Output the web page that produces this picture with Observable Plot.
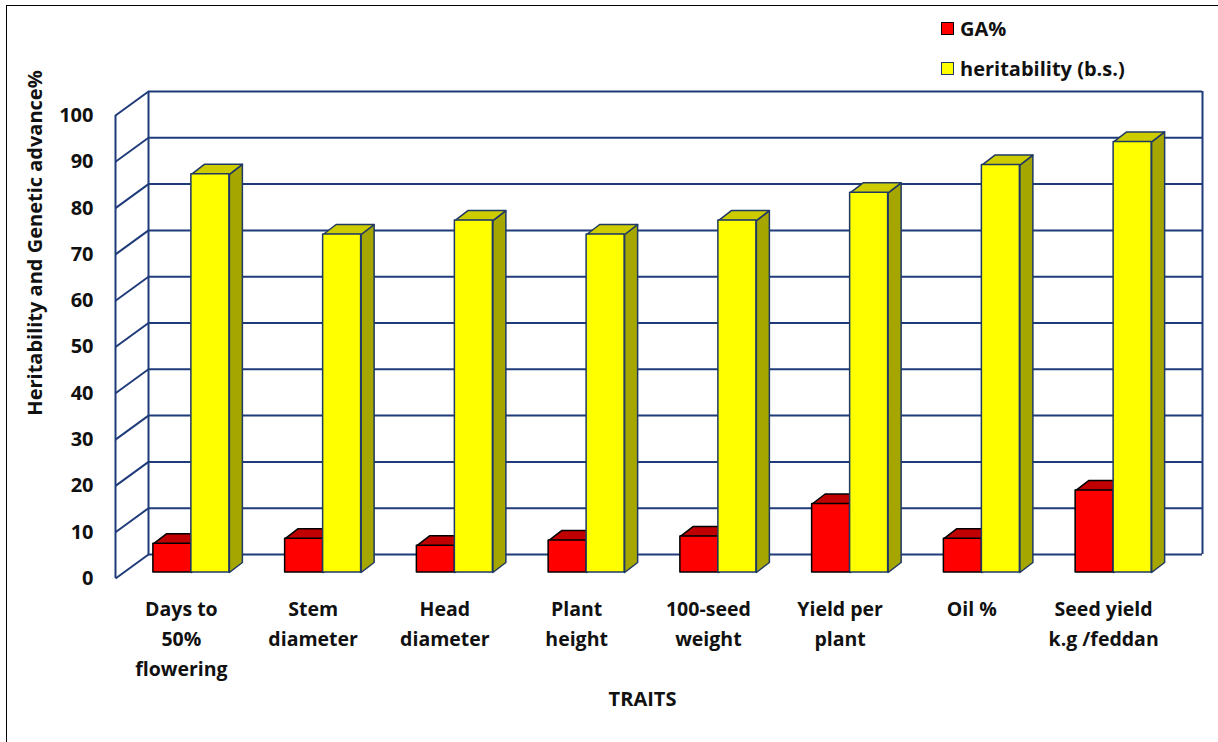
<!DOCTYPE html>
<html><head><meta charset="utf-8">
<script src="https://cdn.jsdelivr.net/npm/d3@7"></script>
<script src="https://cdn.jsdelivr.net/npm/@observablehq/plot@0.6"></script>
<style>
html,body{margin:0;padding:0;background:#fff;overflow:hidden;}
#wrap{position:relative;width:1218px;height:742px;}
#chart{position:absolute;left:0;top:0;}
#frame{position:absolute;left:6px;top:5px;width:1300px;height:800px;border-top:1.5px solid #000;border-left:1.5px solid #000;pointer-events:none;}
#legend{position:absolute;left:941px;top:0;font-family:"Open Sans",Lato,sans-serif;font-weight:700;font-size:20px;color:#111;}
.item{position:absolute;left:0;display:flex;align-items:center;white-space:nowrap;height:26px;}
.sw{width:11px;height:11px;border:1.5px solid #000;margin-right:6px;flex:none;}
</style></head>
<body><div id="wrap"><div id="chart"></div><div id="frame"></div><div id="legend"></div></div>
<script>
// ---- data ----
const traits = ["Days to\n50%\nflowering","Stem\ndiameter","Head\ndiameter","Plant\nheight","100-seed\nweight","Yield per\nplant","Oil %","Seed yield\nk.g /feddan"];
const gaPct = [6.2, 7.3, 5.8, 6.9, 7.8, 14.8, 7.3, 17.7];
const heritability = [86, 73, 76, 73, 76, 82, 88, 93];
const seriesNames = ["GA%", "heritability (b.s.)"];
const yTicks = [0, 10, 20, 30, 40, 50, 60, 70, 80, 90, 100];
const yTitle = "Heritability and Genetic advance%";
const xTitle = "TRAITS";

// ---- layout / style ----
const W = 1218, H = 742, ML = 115, MR = 49, MT = 115, MB = 164;
const pxX = (W - ML - MR) / traits.length;
const pxY = (H - MT - MB) / 100;
const WALL = {dx: 33, dy: -24};
const BAR = {dx: 10, dy: -6, w: 38, depthX: 13, depthY: 10};
const GRID = "#1f3b7a";
const FONT = "'Open Sans', Lato, sans-serif";
const styles = [
  {front: "#ff0000", top: "#c00000", side: "#a00000", stroke: "#000000"},
  {front: "#ffff00", top: "#cccc00", side: "#a6a600", stroke: "#1f3864"}
];

const bw = BAR.w / pxX, bdx = BAR.depthX / pxX, bdy = BAR.depthY / pxY;
const wdx = WALL.dx / pxX, wdy = -WALL.dy / pxY;

function faces(values, k) {
  const rects = [], tops = [], sides = [];
  values.forEach((v, i) => {
    const x0 = i + 0.5 - bw + k * bw, x1 = x0 + bw, id = k + "-" + i;
    rects.push({x1: x0, x2: x1, y1: 0, y2: v});
    [[x0, v], [x1, v], [x1 + bdx, v + bdy], [x0 + bdx, v + bdy], [x0, v]].forEach(([x, y]) => tops.push({id, x, y}));
    [[x1, 0], [x1, v], [x1 + bdx, v + bdy], [x1 + bdx, bdy], [x1, 0]].forEach(([x, y]) => sides.push({id, x, y}));
  });
  return {rects, tops, sides};
}

function barMarks(values, k) {
  const f = faces(values, k), s = styles[k];
  const common = {dx: BAR.dx, dy: BAR.dy, stroke: s.stroke, strokeWidth: 1.5, strokeLinejoin: "round"};
  return [
    Plot.line(f.sides, {x: "x", y: "y", z: "id", fill: s.side, ...common}),
    Plot.line(f.tops, {x: "x", y: "y", z: "id", fill: s.top, ...common}),
    Plot.rect(f.rects, {x1: "x1", x2: "x2", y1: "y1", y2: "y2", fill: s.front, ...common})
  ];
}

const chart = Plot.plot({
  width: W, height: H,
  marginLeft: ML, marginRight: MR, marginTop: MT, marginBottom: MB,
  style: {background: "transparent", fontFamily: FONT, color: "#111", overflow: "visible"},
  x: {domain: [0, traits.length], axis: null},
  y: {domain: [0, 100], axis: null},
  marks: [
    // back wall
    Plot.ruleY(yTicks, {stroke: GRID, strokeWidth: 2, dx: WALL.dx, dy: WALL.dy}),
    Plot.ruleX([0, traits.length], {stroke: GRID, strokeWidth: 2, dx: WALL.dx, dy: WALL.dy}),
    // left wall
    Plot.ruleX([0], {stroke: GRID, strokeWidth: 2}),
    Plot.link(yTicks, {x1: () => 0, y1: d => d, x2: () => wdx, y2: d => d + wdy, stroke: GRID, strokeWidth: 2}),
    // bars
    ...barMarks(gaPct, 0),
    ...barMarks(heritability, 1),
    // y tick labels
    Plot.text(yTicks, {x: () => 0, y: d => d, text: d => String(d), textAnchor: "end", dx: -22, fontSize: 20, fontWeight: 700, fill: "#111"}),
    // x tick labels
    Plot.text(traits, {x: (d, i) => i + 0.5, y: () => 0, text: d => d, lineAnchor: "top", dy: 16, lineHeight: 1.55, fontSize: 19.5, fontWeight: 700, fill: "#111"}),
    // titles
    Plot.text([yTitle], {frameAnchor: "left", textAnchor: "middle", rotate: -90, dx: -80, dy: -104, fontSize: 20, fontWeight: 700, fill: "#111"}),
    Plot.text([xTitle], {frameAnchor: "bottom", dy: 127, fontSize: 20, fontWeight: 700, fill: "#111"})
  ]
});
document.getElementById("chart").appendChild(chart);

// legend
const legend = document.getElementById("legend");
const legendTops = [15, 55];
seriesNames.forEach((name, k) => {
  const item = document.createElement("div");
  item.className = "item";
  item.style.top = legendTops[k] + "px";
  const sw = document.createElement("span");
  sw.className = "sw";
  sw.style.background = styles[k].front;
  sw.style.borderColor = styles[k].stroke;
  const t = document.createElement("span");
  t.textContent = name;
  item.appendChild(sw); item.appendChild(t);
  legend.appendChild(item);
});
</script>
</body></html>
